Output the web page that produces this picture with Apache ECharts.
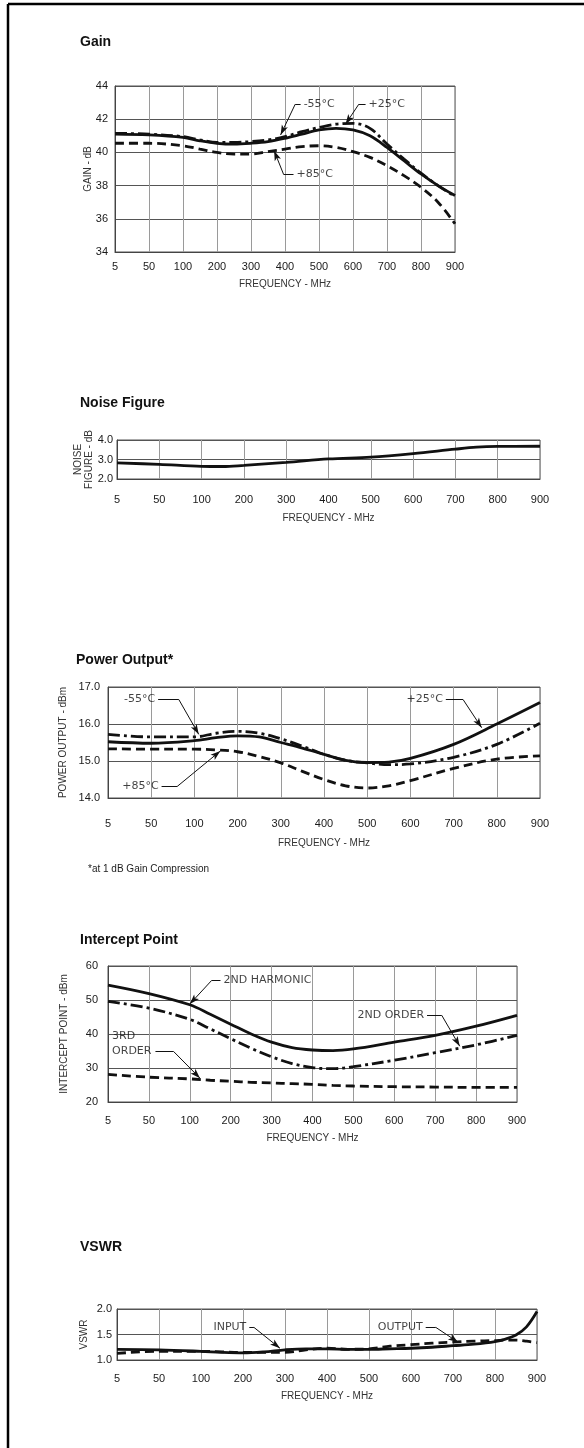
<!DOCTYPE html>
<html><head><meta charset="utf-8">
<script src="https://cdn.jsdelivr.net/npm/echarts@6.0.0/dist/echarts.min.js"></script>
<style>html,body{margin:0;padding:0;background:#fff}#c{width:584px;height:1448px}</style>
</head><body><div id="c"></div>
<script>
// ---------- DATA ----------
const freqTicks = [5, 50, 100, 200, 300, 400, 500, 600, 700, 800, 900];

const gainFreq = [5, 50, 100, 150, 200, 250, 300, 350, 400, 450, 500, 550, 600, 650, 700, 750, 800, 850, 900];
const gainM55 = [41.15, 41.1, 40.95, 40.75, 40.6, 40.6, 40.65, 40.75, 40.95, 41.25, 41.5, 41.7, 41.75, 41.45, 40.5, 39.6, 38.75, 38.0, 37.35];
const gainP25 = [41.1, 41.05, 40.9, 40.7, 40.55, 40.5, 40.55, 40.65, 40.85, 41.1, 41.35, 41.45, 41.35, 41.0, 40.3, 39.5, 38.7, 38.0, 37.4];
const gainP85 = [40.55, 40.55, 40.4, 40.2, 40.0, 39.9, 39.9, 40.05, 40.2, 40.35, 40.4, 40.3, 40.05, 39.7, 39.2, 38.6, 37.9, 37.0, 35.7];
const gainTicksY = [34, 44, 2];

const noiseFreq = [5, 50, 100, 150, 200, 300, 400, 500, 600, 700, 750, 800, 900];
const noiseFig = [2.83, 2.75, 2.65, 2.64, 2.7, 2.85, 3.03, 3.12, 3.3, 3.53, 3.63, 3.67, 3.68];
const noiseTicksY = [2, 4, 1];

const powerFreq = [5, 50, 100, 150, 200, 250, 300, 350, 400, 450, 500, 550, 600, 700, 800, 900];
const powerM55 = [15.72, 15.65, 15.65, 15.75, 15.8, 15.75, 15.6, 15.4, 15.18, 15.02, 14.95, 14.9, 14.92, 15.1, 15.45, 16.02];
const powerP25 = [15.52, 15.48, 15.55, 15.63, 15.68, 15.65, 15.5, 15.35, 15.18, 15.02, 14.96, 14.97, 15.07, 15.45, 16.0, 16.58];
const powerP85 = [15.33, 15.32, 15.32, 15.3, 15.25, 15.12, 14.95, 14.72, 14.5, 14.33, 14.27, 14.33, 14.47, 14.8, 15.05, 15.14];
const powerTicksY = [14, 17, 1];

const ipFreq = [5, 50, 100, 150, 200, 250, 300, 350, 400, 450, 500, 600, 700, 800, 900];
const ip2ndHarm = [54.4, 51.9, 48.6, 45.8, 42.9, 40.0, 37.6, 36.0, 35.3, 35.1, 35.6, 37.6, 39.6, 42.3, 45.5];
const ip2ndOrder = [49.6, 47.6, 44.3, 41.5, 38.6, 35.8, 33.3, 31.3, 30.1, 29.8, 30.4, 32.3, 34.5, 36.8, 39.6];
const ip3rdOrder = [28.1, 27.3, 26.8, 26.4, 26.1, 25.8, 25.6, 25.4, 25.2, 24.9, 24.7, 24.5, 24.4, 24.3, 24.3];
const ipTicksY = [20, 60, 10];

const vswrFreq = [5, 50, 100, 150, 200, 250, 300, 350, 400, 450, 500, 550, 600, 650, 700, 750, 800, 825, 850, 875, 900];
const vswrInput = [1.21, 1.2, 1.17, 1.15, 1.14, 1.16, 1.2, 1.22, 1.22, 1.21, 1.21, 1.22, 1.23, 1.25, 1.28, 1.31, 1.36, 1.41, 1.49, 1.65, 1.95];
const vswrOutput = [1.13, 1.17, 1.17, 1.16, 1.15, 1.15, 1.15, 1.2, 1.23, 1.21, 1.22, 1.27, 1.3, 1.33, 1.35, 1.37, 1.38, 1.39, 1.39, 1.37, 1.34];
const vswrTicksY = [1, 2, 0.5];

// annotation texts and leader points (frequency, value)
const gainNotes = [
  {text: '-55°C', align: 'left', path: [[446, 42.9], [430, 42.9], [387, 41.05]]},
  {text: '+25°C', align: 'left', path: [[637, 42.9], [617, 42.9], [578, 41.7]]},
  {text: '+85°C', align: 'left', path: [[425, 38.67], [396, 38.67], [368, 40.1]]}
];
const powerNotes = [
  {text: '-55°C', align: 'right', path: [[58, 16.66], [82, 16.66], [110, 15.72]]},
  {text: '+25°C', align: 'right', path: [[682, 16.66], [722, 16.66], [765, 15.9]]},
  {text: '+85°C', align: 'right', path: [[62, 14.31], [80, 14.31], [160, 15.27]]}
];
const ipNotes = [
  {text: '2ND HARMONIC', align: 'left', path: [[175, 55.7], [153, 55.7], [100, 48.8]]},
  {text: '2ND ORDER', align: 'right', path: [[680, 45.5], [716, 45.5], [760, 36.4]]},
  {text: '3RD\nORDER', align: 'left', at: [9.5, 37.1], path: [[58, 34.9], [80, 34.9], [125, 27.0]]}
];
const vswrNotes = [
  {text: 'INPUT', align: 'right', path: [[215, 1.64], [226, 1.64], [288, 1.23]]},
  {text: 'OUTPUT', align: 'right', path: [[635, 1.64], [659, 1.64], [712, 1.35]]}
];

// ---------- helpers ----------
function pos(f) {
  if (f <= freqTicks[0]) return 0;
  for (let i = 0; i < freqTicks.length - 1; i++) {
    const a = freqTicks[i], b = freqTicks[i + 1];
    if (f <= b) return i + (f - a) / (b - a);
  }
  return freqTicks.length - 1;
}
const FONT = 'Liberation Sans';
const NOTEFONT = 'DejaVu Sans';
const INK = '#111';
const SOLID = 'solid', DASH = [9, 5], DASHDOT = [12, 4, 3, 4];

const panels = [
  {title: 'Gain', tLeft: 80, tTop: 35,
   grid: {left: 115, top: 86, width: 340, height: 166},
   y: gainTicksY, yName: 'GAIN - dB', nameGap: 21, labelMargin: 7, dec: 0, xMargin: 9, xNameGap: 27,
   lines: [[gainFreq, gainM55, DASHDOT], [gainFreq, gainP25, SOLID], [gainFreq, gainP85, DASH]],
   notes: gainNotes},
  {title: 'Noise Figure', tLeft: 80, tTop: 396,
   grid: {left: 117, top: 440, width: 423, height: 39},
   y: noiseTicksY, yName: 'NOISE\nFIGURE - dB', nameGap: 22, labelMargin: 4, dec: 1, xMargin: 15, xNameGap: 34,
   lines: [[noiseFreq, noiseFig, SOLID]], notes: []},
  {title: 'Power Output*', tLeft: 76, tTop: 653,
   grid: {left: 108, top: 687, width: 432, height: 111},
   y: powerTicksY, yName: 'POWER OUTPUT - dBm', nameGap: 39, labelMargin: 8, dec: 1, xMargin: 20, xNameGap: 40,
   lines: [[powerFreq, powerM55, DASHDOT], [powerFreq, powerP25, SOLID], [powerFreq, powerP85, DASH]],
   notes: powerNotes},
  {title: 'Intercept Point', tLeft: 80, tTop: 933,
   grid: {left: 108, top: 966, width: 409, height: 136},
   y: ipTicksY, yName: 'INTERCEPT POINT - dBm', nameGap: 38, labelMargin: 10, dec: 0, xMargin: 13, xNameGap: 31,
   lines: [[ipFreq, ip2ndHarm, SOLID], [ipFreq, ip2ndOrder, DASHDOT], [ipFreq, ip3rdOrder, DASH]],
   notes: ipNotes},
  {title: 'VSWR', tLeft: 80, tTop: 1240,
   grid: {left: 117, top: 1309, width: 420, height: 51},
   y: vswrTicksY, yName: 'VSWR', nameGap: 27, labelMargin: 5, dec: 1, xMargin: 13, xNameGap: 31,
   lines: [[vswrFreq, vswrInput, SOLID], [vswrFreq, vswrOutput, DASH]],
   notes: vswrNotes}
];

const option = {
  animation: false,
  backgroundColor: '#fff',
  title: [], grid: [], xAxis: [], yAxis: [], series: [],
  graphic: [
    {type: 'line', shape: {x1: 8, y1: 4, x2: 584, y2: 4}, style: {stroke: '#000', lineWidth: 2.5}},
    {type: 'line', shape: {x1: 8, y1: 4, x2: 8, y2: 1448}, style: {stroke: '#000', lineWidth: 2.5}},
    {type: 'text', left: 88, top: 864, style: {text: '*at 1 dB Gain Compression', font: '10px "Liberation Sans"', fill: '#222'}}
  ]
};

panels.forEach((p, k) => {
  option.title.push({text: p.title, left: p.tLeft, top: p.tTop, padding: 0,
    textStyle: {fontFamily: FONT, fontSize: 14, fontWeight: 'bold', color: INK}});
  option.grid.push(Object.assign({show: true, borderColor: '#555', borderWidth: 1, containLabel: false}, p.grid));
  option.xAxis.push({
    type: 'value', gridIndex: k, min: 0, max: freqTicks.length - 1, interval: 1,
    axisLine: {show: true, lineStyle: {color: '#444', width: 1}},
    axisTick: {show: false},
    axisLabel: {formatter: v => (freqTicks[v] !== undefined ? String(freqTicks[v]) : ''),
      color: '#1a1a1a', fontSize: 11, fontFamily: FONT, margin: p.xMargin},
    splitLine: {show: true, lineStyle: {color: '#9a9a9a', width: 1}},
    name: 'FREQUENCY - MHz', nameLocation: 'middle', nameGap: p.xNameGap, nameMoveOverlap: false,
    nameTextStyle: {color: '#333', fontSize: 10, fontFamily: FONT}
  });
  option.yAxis.push({
    type: 'value', gridIndex: k, min: p.y[0], max: p.y[1], interval: p.y[2],
    axisLine: {show: true, lineStyle: {color: '#444', width: 1}},
    axisTick: {show: false},
    axisLabel: {formatter: v => v.toFixed(p.dec), color: '#1a1a1a', fontSize: 11, fontFamily: FONT, margin: p.labelMargin},
    splitLine: {show: true, lineStyle: {color: '#555', width: 1}},
    name: p.yName, nameLocation: 'middle', nameGap: p.nameGap, nameRotate: 90, nameMoveOverlap: false,
    nameTextStyle: {color: '#333', fontSize: 10, fontFamily: FONT, lineHeight: 11}
  });
  p.lines.forEach(([fr, vals, type]) => {
    option.series.push({
      type: 'line', xAxisIndex: k, yAxisIndex: k, silent: true,
      data: fr.map((f, i) => [pos(f), vals[i]]),
      smooth: 0.35, symbol: 'none',
      lineStyle: {color: INK, width: 2.8, type: type}
    });
  });
  if (p.notes.length) {
    const texts = p.notes.map(n => {
      const anchor = n.at || n.path[0];
      return {
        value: [pos(anchor[0]), anchor[1]], name: n.text,
        label: {align: n.align, position: [n.at ? 0 : (n.align === 'left' ? 3 : -3), 0]}
      };
    });
    const segs = [];
    p.notes.forEach(n => {
      for (let i = 0; i < n.path.length - 1; i++) {
        const last = i === n.path.length - 2;
        segs.push([
          {coord: [pos(n.path[i][0]), n.path[i][1]], symbol: 'none'},
          {coord: [pos(n.path[i + 1][0]), n.path[i + 1][1]], symbol: last ? 'arrow' : 'none', symbolSize: last ? [5, 10] : 0}
        ]);
      }
    });
    option.series.push({
      type: 'scatter', xAxisIndex: k, yAxisIndex: k, silent: true, clip: false,
      symbolSize: 0, itemStyle: {color: 'transparent'},
      data: texts,
      label: {show: true, formatter: '{b}', verticalAlign: 'middle', color: '#111',
        fontSize: 11, fontFamily: NOTEFONT, lineHeight: 15},
      markLine: {silent: true, animation: false, symbol: ['none', 'none'],
        label: {show: false}, emphasis: {disabled: true},
        lineStyle: {color: INK, width: 1, type: 'solid'}, data: segs}
    });
  }
});

const chart = echarts.init(document.getElementById('c'), null, {renderer: 'canvas'});
chart.setOption(option);
</script></body></html>
